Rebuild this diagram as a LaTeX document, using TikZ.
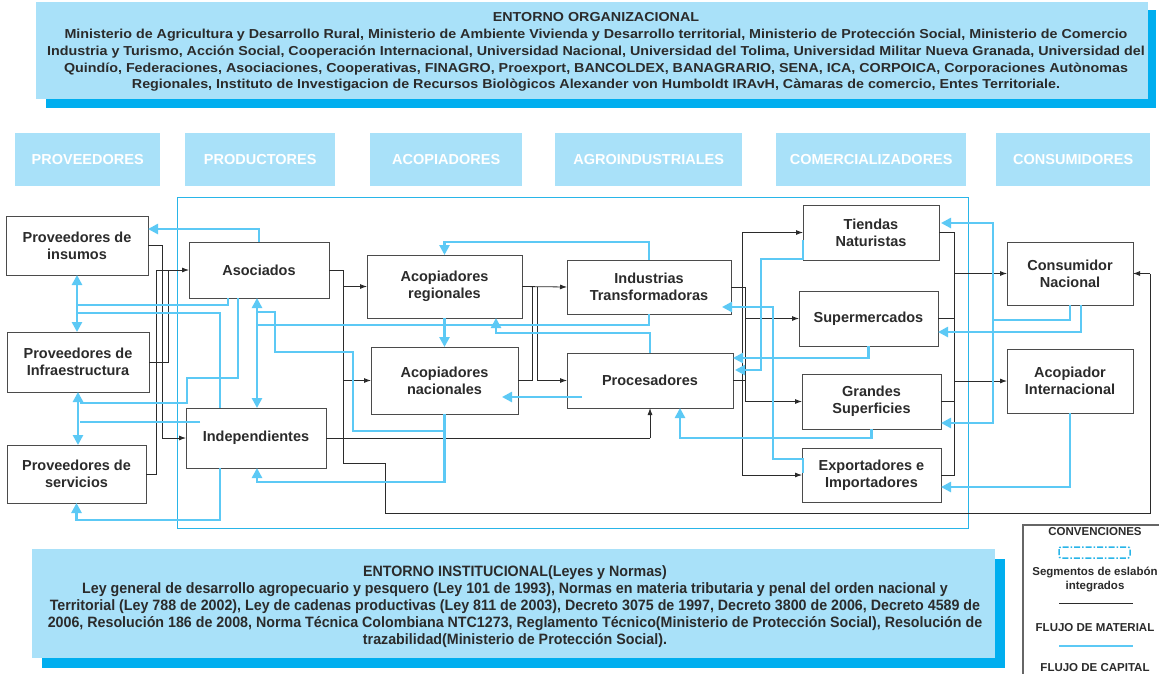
\documentclass[tikz,border=0pt]{standalone}
\usepackage{fontspec}
\setmainfont{Liberation Sans}
\newfontfamily\narrowfont[FakeStretch=0.95]{Liberation Sans}
\newfontfamily\widefont[FakeStretch=1.1]{Liberation Sans}
\usetikzlibrary{arrows.meta,calc}
\definecolor{lightblue}{HTML}{A9E1F9}
\definecolor{darkblue}{HTML}{00AEEF}
\definecolor{capblue}{HTML}{5CC9F5}
\definecolor{segblue}{HTML}{29B5E8}
\definecolor{ink}{HTML}{2B2B2B}
\begin{document}
\begin{tikzpicture}[x=1pt,y=-1pt,
  nbox/.style={draw=ink!85, line width=0.9pt, fill=white, anchor=north west, inner sep=0pt, outer sep=0pt, align=center, font=\bfseries\fontsize{14.5}{17}\selectfont, text=ink},
  hdr/.style={fill=lightblue, anchor=north west, inner sep=0pt, minimum height=53pt, font=\bfseries\fontsize{14.5}{15}\selectfont, text=white},
  matflow/.style={draw=ink, line width=0.8pt},
  matar/.style={matflow, -{Latex[length=7pt,width=5pt]}},
  capflow/.style={draw=capblue, line width=2.6pt},
  capar/.style={capflow, -{Triangle[length=10pt,width=10pt]}},
  capdbl/.style={capflow, {Triangle[length=10pt,width=10pt]}-{Triangle[length=10pt,width=10pt]}},
  lgd/.style={font=\bfseries\fontsize{11.5}{14}\selectfont, text=ink, inner sep=0pt, align=center}
]
\useasboundingbox (0,0) rectangle (1159,673);
\fill[white] (0,0) rectangle (1159,673);

% ---- top box
\fill[darkblue] (46,10) rectangle (1156,108);
\fill[lightblue] (36,2) rectangle (1148,99);
\node[font=\widefont\bfseries\fontsize{13}{16.6}\selectfont, align=center, anchor=north, text=ink, inner sep=0pt] (orgtxt) at (596,12)
{ENTORNO ORGANIZACIONAL\\[1pt]
Ministerio de Agricultura y Desarrollo Rural, Ministerio de Ambiente Vivienda y Desarrollo territorial, Ministerio de Protección Social, Ministerio de Comercio\\
Industria y Turismo, Acción Social, Cooperación Internacional, Universidad Nacional, Universidad del Tolima, Universidad Militar Nueva Granada, Universidad del\\
Quindío, Federaciones, Asociaciones, Cooperativas, FINAGRO, Proexport, BANCOLDEX, BANAGRARIO, SENA, ICA, CORPOICA, Corporaciones Autònomas\\
Regionales, Instituto de Investigacion de Recursos Biològicos Alexander von Humboldt IRAvH, Càmaras de comercio, Entes Territoriale.};

% ---- header row
\node[hdr, minimum width=145pt] (hprov) at (15,133) {PROVEEDORES};
\node[hdr, minimum width=150pt] (hprod) at (185,133) {PRODUCTORES};
\node[hdr, minimum width=152pt] (hacop) at (370,133) {ACOPIADORES};
\node[hdr, minimum width=187pt] (hagro) at (555,133) {AGROINDUSTRIALES};
\node[hdr, minimum width=190pt] (hcom) at (776,133) {COMERCIALIZADORES};
\node[hdr, minimum width=154pt] (hcons) at (996,133) {CONSUMIDORES};

% ---- integrated segment outline
\draw[segblue, line width=1pt] (177,197) rectangle (968,528);

% ---- nodes
\node[nbox, minimum width=142pt, minimum height=59pt] (pin) at (6,216) {Proveedores de\\insumos};
\node[nbox, minimum width=142pt, minimum height=60pt] (pinf) at (7,332) {Proveedores de\\Infraestructura};
\node[nbox, minimum width=139pt, minimum height=58pt] (pser) at (7,445) {Proveedores de\\servicios};
\node[nbox, minimum width=140pt, minimum height=56pt] (aso) at (189,242) {Asociados};
\node[nbox, minimum width=140pt, minimum height=60pt] (ind) at (186,408) {Independientes};
\node[nbox, minimum width=155pt, minimum height=63pt] (areg) at (367,255) {Acopiadores\\regionales};
\node[nbox, minimum width=147pt, minimum height=67pt] (anac) at (371,347) {Acopiadores\\nacionales};
\node[nbox, minimum width=164pt, minimum height=54pt] (itr) at (567,260) {Industrias\\Transformadoras};
\node[nbox, minimum width=166pt, minimum height=55pt] (pro) at (567,353) {Procesadores};
\node[nbox, minimum width=136pt, minimum height=55pt] (tie) at (803,205) {Tiendas\\Naturistas};
\node[nbox, minimum width=139pt, minimum height=55pt] (sup) at (799,291) {Supermercados};
\node[nbox, minimum width=139pt, minimum height=55pt] (gra) at (802,374) {Grandes\\Superficies};
\node[nbox, minimum width=139pt, minimum height=54pt] (exp) at (802,448) {Exportadores e\\Importadores};
\node[nbox, minimum width=126pt, minimum height=63pt] (cna) at (1007,242) {Consumidor\\Nacional};
\node[nbox, minimum width=126pt, minimum height=64pt] (ain) at (1007,349) {Acopiador\\Internacional};

% ---- material flow
\draw[matflow] (pin.east) -| (162,438);
\draw[matar] (162,438) -- (ind.west);
\draw[matflow] (pinf.east) -- (168,362) -- (168,270);
\draw[matflow] (pser.east) -- (156,474) -- (156,270);
\draw[matar] (156,270) -- (aso.west);
\draw[matflow] (aso.east) -- (343,270) -- (343,463) -- (385,463) -- (385,513) -- (1150,513) -- (1150,273.5);
\draw[matar] (1150,273.5) -- (cna.east);
\draw[matar] (343,286.5) -- (areg.west);
\draw[matar] (343,380.5) -- (anac.west);
\draw[matflow] (ind.east) -- (650,438);
\draw[matar] (650,438) -- (pro.south);
\draw[matar] (areg.east) -- (itr.west);
\draw[matflow] (anac.east) -- (532,380.5) -- (532,286.5);
\draw[matflow] (537,286.5) -- (537,380.5);
\draw[matar] (537,380.5) -- (pro.west);
\draw[matflow] (itr.east) -- (745,287);
\draw[matflow] (pro.east) -- (745,380.5);
\draw[matflow] (742,232.5) -- (742,475);
\draw[matflow] (745,287) -- (745,401.5);
\draw[matar] (742,232.5) -- (tie.west);
\draw[matar] (745,318.5) -- (sup.west);
\draw[matar] (745,401.5) -- (gra.west);
\draw[matar] (742,475) -- (exp.west);
\draw[matflow] (tie.east) -- (954,232.5) -- (954,475) -- (exp.east);
\draw[matflow] (sup.east) -- (954,318.5);
\draw[matflow] (gra.east) -- (954,401.5);
\draw[matar] (954,273.5) -- (cna.west);
\draw[matar] (954,381) -- (ain.west);

% ---- capital flow
\draw[capar] (aso.north) |- (148,229);
\draw[capdbl] (pin.south) -- (pin.south |- pinf.north);
\draw[capflow] (78,305) -| (228,298);
\draw[capflow] (78,313) -| (220,408);
\draw[capflow] (238,298) |- (187,378) |- (80,403);
\draw[capdbl] (pinf.south) -- (pinf.south |- pser.north);
\draw[capflow] (200,422) -- (80,422);
\draw[capar] (220,468) |- (76.5,520) -- (pser.south);
\draw[capdbl] (257,298) -- (257,408);
\draw[capflow] (itr.south) |- (257,325);
\draw[capflow] (257,312) -| (275,352) -| (353,431) -- (445,431);
\draw[capar] (anac.south) |- (257,482) -- (257,468);
\draw[capar] (itr.north) |- (444.5,242) -- (areg.north);
\draw[capar] (areg.south) -- (anac.north);
\draw[capar] (pro.north) |- (496,333) -- (496,318);
\draw[capar] (582,397) -- (502,397);
\draw[capar] (gra.south) |- (680,438) -- (680,408);
\draw[capar] (803,473) |- (773,459) |- (722,307);
\draw[capar] (803,240) |- (761,259) |- (735,370);
\draw[capar] (sup.south) |- (733,358);
\draw[capflow] (cna.south) |- (993,320);
\draw[capar] (993,320) |- (941,223);
\draw[capar] (993,320) |- (941,423);
\draw[capar] (1081,305) |- (938,332);
\draw[capar] (ain.south) |- (941,487);

% ---- bottom box
\fill[darkblue] (42,559) rectangle (1005,668);
\fill[lightblue] (32,549) rectangle (995,658);
\node[font=\narrowfont\bfseries\fontsize{15}{17.2}\selectfont, align=center, anchor=north, text=ink, inner sep=0pt] (insttxt) at (515,565)
{ENTORNO INSTITUCIONAL(Leyes y Normas)\\
Ley general de desarrollo agropecuario y pesquero (Ley 101 de 1993), Normas en materia tributaria y penal del orden nacional y\\
Territorial (Ley 788 de 2002), Ley de cadenas productivas (Ley 811 de 2003), Decreto 3075 de 1997, Decreto 3800 de 2006, Decreto 4589 de\\
2006, Resolución 186 de 2008, Norma Técnica Colombiana NTC1273, Reglamento Técnico(Ministerio de Protección Social), Resolución de\\
trazabilidad(Ministerio de Protección Social).};

% ---- legend
\draw[gray!80!black, line width=1.2pt] (1023,680) -- (1023,525) -- (1165,525);
\node[lgd] (lconv) at (1095,532) {CONVENCIONES};
\draw[segblue, line width=1.5pt, dash pattern=on 6pt off 2pt on 1.5pt off 2pt, rounded corners=2pt] (1059,547) rectangle (1130,558);
\node[lgd] (lseg) at (1095,579) {Segmentos de eslabón\\integrados};
\draw[ink, line width=1pt] (1059,603) -- (1133,603);
\node[lgd] (lmat) at (1095,628) {FLUJO DE MATERIAL};
\draw[capblue, line width=2.6pt] (1059,646) -- (1133,646);
\node[lgd] (lcap) at (1095,668) {FLUJO DE CAPITAL};
\end{tikzpicture}
\end{document}
